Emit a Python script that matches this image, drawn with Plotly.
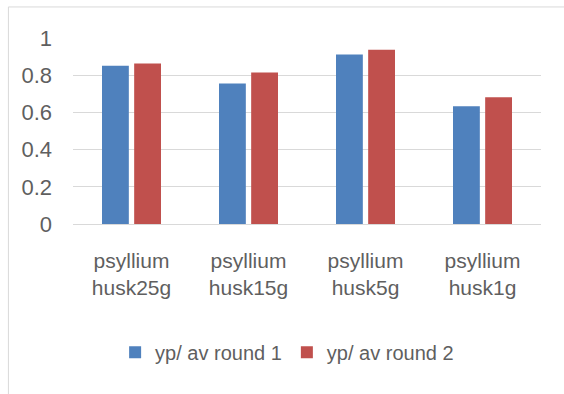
import plotly.graph_objects as go

categories = ["psyllium<br>husk25g", "psyllium<br>husk15g", "psyllium<br>husk5g", "psyllium<br>husk1g"]
round1 = [0.851, 0.755, 0.911, 0.633]
round2 = [0.863, 0.815, 0.937, 0.682]
series_names = ["yp/ av round 1", "yp/ av round 2"]
y_ticks = [0, 0.2, 0.4, 0.6, 0.8, 1]
y_ticktext = ["0", "0.2", "0.4", "0.6", "0.8", "1"]

FONT = "Liberation Sans, Arial, sans-serif"
GRAY = "#5f5f5f"

fig = go.Figure()
fig.add_trace(go.Bar(x=categories, y=round1, name=series_names[0],
                     marker=dict(color="#4F81BD", line=dict(width=0))))
fig.add_trace(go.Bar(x=categories, y=round2, name=series_names[1],
                     marker=dict(color="#C0504D", line=dict(width=0))))

fig.update_layout(
    width=564, height=394,
    margin=dict(l=73, r=23, t=38, b=170),
    paper_bgcolor="white", plot_bgcolor="white",
    barmode="group", bargap=0.45, bargroupgap=0.166,
    font=dict(family=FONT, color=GRAY),
    showlegend=True,
    legend=dict(orientation="h", x=0.09, xanchor="left", y=-0.69, yanchor="middle",
                font=dict(size=20, color=GRAY, family=FONT),
                itemwidth=30, traceorder="normal", bgcolor="rgba(0,0,0,0)"),
    xaxis=dict(showgrid=False, showline=False, zeroline=False, ticks="",
               tickfont=dict(size=21, color=GRAY, family=FONT), ticklabelstandoff=22),
    yaxis=dict(range=[0, 1], tickvals=y_ticks, ticktext=y_ticktext,
               showgrid=True, gridcolor="#D9D9D9", gridwidth=1,
               zeroline=True, zerolinecolor="#D9D9D9", zerolinewidth=1,
               showline=False, ticks="", ticklabelstandoff=20,
               tickfont=dict(size=22, color=GRAY, family=FONT)),
    shapes=[dict(type="rect", xref="paper", yref="paper",
                 x0=-0.138, x1=1.1, y0=-1.0, y1=1.167,
                 line=dict(color="#D9D9D9", width=1), fillcolor="rgba(0,0,0,0)",
                 layer="below")],
)

fig.write_html("out.html", config={"displayModeBar": False},
               post_script="document.body.style.margin='0';")
